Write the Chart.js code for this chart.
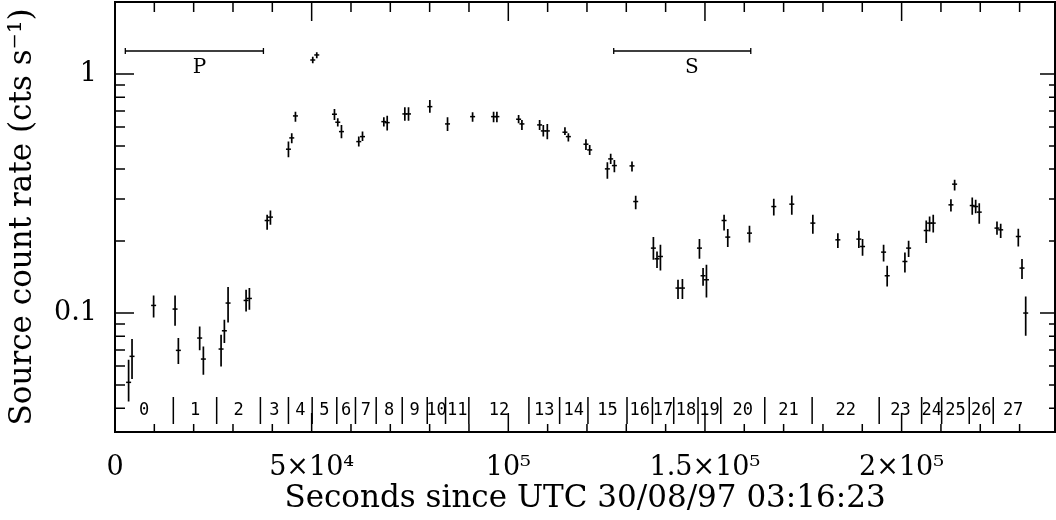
<!DOCTYPE html>
<html lang="en">
<head>
  <meta charset="UTF-8">
  <title>Light curve</title>
  <script src="https://cdn.jsdelivr.net/npm/chart.js"></script>
  <style>
    body { margin: 0; background: #fff; }
    #wrap { position: relative; width: 1056px; height: 520px; }
  </style>
</head>
<body>
  <div id="wrap"><canvas id="lightCurve"></canvas></div>
  <script>
    // time bins (s since 30/08/97 03:16:23) and source rate with error range
    const time = [3460, 4330, 9820, 15270, 16110, 21530, 22470, 26970, 27810, 28750,
      33330, 34170, 38680, 39520, 44100, 44940, 45880, 50280, 51300, 55800,
      56640, 57580, 61980, 62930, 68350, 69210, 73690, 74630, 80050, 84550,
      90920, 96260, 97100, 102620, 103460, 107960, 108900, 109920, 114400, 115270,
      119740, 120690, 125190, 126030, 126970, 131450, 132390, 136890, 137810, 138680,
      143150, 144270, 148600, 149520, 150380, 154860, 155800, 161320, 167500, 172080,
      177430, 183790, 189130, 190070, 195420, 196330, 200840, 201780, 206260, 207120,
      208040, 212540, 213480, 217960, 218830, 219740, 224250, 225190, 229670, 230610,
      231550];
    const rate = [0.0513, 0.0659, 0.1076, 0.1039, 0.0698, 0.0786, 0.0642, 0.0707, 0.0843, 0.1101,
      0.1129, 0.1151, 0.2438, 0.2519, 0.4845, 0.5402, 0.6676, 1.144, 1.201, 0.6786,
      0.6283, 0.5740, 0.5213, 0.5470, 0.6319, 0.6259, 0.6805, 0.6805, 0.7300, 0.6181,
      0.6631, 0.6631, 0.6631, 0.6467, 0.6181, 0.6122, 0.5778, 0.5778, 0.5707, 0.5470,
      0.5084, 0.4813, 0.4009, 0.4413, 0.4138, 0.4126, 0.2927, 0.1869, 0.1686, 0.1724,
      0.1272, 0.1272, 0.1869, 0.1432, 0.1378, 0.2438, 0.2078, 0.2159, 0.2789, 0.2854,
      0.2378, 0.2024, 0.2038, 0.1898, 0.1798, 0.1432, 0.1643, 0.1869, 0.2214, 0.2378,
      0.2378, 0.2835, 0.3460, 0.2816, 0.2789, 0.2643, 0.2266, 0.2229, 0.2090, 0.1542,
      0.1000];
    const rateHigh = [0.0638, 0.0779, 0.1184, 0.1184, 0.0786, 0.0879, 0.0725, 0.0812, 0.0938, 0.1284,
      0.1251, 0.1272, 0.2575, 0.2684, 0.5213, 0.5652, 0.6958, 1.181, 1.232, 0.7141,
      0.6529, 0.6122, 0.5470, 0.5740, 0.6592, 0.6695, 0.7258, 0.7258, 0.7787, 0.6592,
      0.6918, 0.6958, 0.6958, 0.6740, 0.6424, 0.6424, 0.6122, 0.6181, 0.5988, 0.5652,
      0.5335, 0.5050, 0.4276, 0.4632, 0.4371, 0.4300, 0.3091, 0.2078, 0.1809, 0.1929,
      0.1378, 0.1387, 0.2038, 0.1542, 0.1592, 0.2575, 0.2244, 0.2316, 0.3004, 0.3101,
      0.2575, 0.2159, 0.2208, 0.2038, 0.1929, 0.1576, 0.1792, 0.2005, 0.2438, 0.2533,
      0.2575, 0.2995, 0.3606, 0.3041, 0.2975, 0.2882, 0.2414, 0.2361, 0.2251, 0.1681,
      0.1173];
    const rateLow = [0.0427, 0.0530, 0.0959, 0.0885, 0.0612, 0.0698, 0.0552, 0.0598, 0.0749, 0.0914,
      0.1015, 0.1032, 0.2229, 0.2339, 0.4487, 0.5133, 0.6319, 1.108, 1.163, 0.6424,
      0.6023, 0.5386, 0.4968, 0.5249, 0.6023, 0.5795, 0.6380, 0.6380, 0.6891, 0.5778,
      0.6319, 0.6283, 0.6283, 0.6223, 0.5834, 0.5834, 0.5470, 0.5335, 0.5561, 0.5213,
      0.4813, 0.4587, 0.3641, 0.4206, 0.3884, 0.3906, 0.2720, 0.1670, 0.1542, 0.1507,
      0.1144, 0.1144, 0.1686, 0.1300, 0.1162, 0.2214, 0.1887, 0.1973, 0.2558, 0.2575,
      0.2145, 0.1869, 0.1869, 0.1736, 0.1643, 0.1292, 0.1478, 0.1714, 0.1961, 0.2193,
      0.2172, 0.2658, 0.3253, 0.2575, 0.2617, 0.2361, 0.2124, 0.2058, 0.1898, 0.1387,
      0.0804];

    // observation segments 0..27 (boundaries in s)
    const segBounds = [0, 14830, 25850, 36970, 44100, 50130, 56390, 61140, 66410, 73030,
      79390, 84040, 89970, 105240, 113050, 120250, 130180, 136640, 142060, 148240,
      154020, 165210, 177250, 194300, 205090, 210180, 217200, 223300, 233400];
    const segLabels = ['0', '1', '2', '3', '4', '5', '6', '7', '8', '9', '10', '11', '12', '13',
      '14', '15', '16', '17', '18', '19', '20', '21', '22', '23', '24', '25', '26', '27'];

    // phase intervals marked at the top
    const phaseNames = ['P', 'S'];
    const phaseStart = [2620, 126800];
    const phaseEnd = [37740, 161650];
    const phaseLabelAt = [21450, 146640];

    // axis ticks
    const xTickValues = [0, 50000, 100000, 150000, 200000];
    const xTickLabels = ['0', '5×10⁴', '10⁵', '1.5×10⁵', '2×10⁵'];
    const yTickValues = [0.1, 1];
    const yTickLabels = ['0.1', '1'];
    const yMinorTicks = [0.04, 0.05, 0.06, 0.07, 0.08, 0.09, 0.2, 0.3, 0.4, 0.5, 0.6, 0.7, 0.8, 0.9];

    // error bars, segment marks, phase bars, frame and inward ticks
    const overlay = {
      id: 'overlay',
      afterDatasetsDraw(chart) {
        const { ctx, chartArea: a, scales: { x, y } } = chart;
        ctx.save();
        ctx.strokeStyle = '#000';
        ctx.fillStyle = '#000';

        ctx.lineWidth = 1.7;
        ctx.beginPath();
        time.forEach((t, i) => {
          const px = x.getPixelForValue(t);
          ctx.moveTo(px, y.getPixelForValue(rateHigh[i]));
          ctx.lineTo(px, y.getPixelForValue(rateLow[i]));
        });
        ctx.stroke();

        // segment separators and numbers
        ctx.lineWidth = 1.5;
        ctx.beginPath();
        for (let i = 1; i < segBounds.length - 1; i++) {
          const px = x.getPixelForValue(segBounds[i]);
          ctx.moveTo(px, a.bottom - 35);
          ctx.lineTo(px, a.bottom - 8);
        }
        ctx.stroke();
        ctx.font = '17px "DejaVu Sans Mono"';
        ctx.textAlign = 'center';
        ctx.textBaseline = 'middle';
        segLabels.forEach((s, i) => {
          const mid = (segBounds[i] + segBounds[i + 1]) / 2;
          ctx.fillText(s, x.getPixelForValue(mid), a.bottom - 21);
        });

        // P / S bars
        ctx.lineWidth = 1.3;
        ctx.font = '20px "DejaVu Serif"';
        phaseNames.forEach((n, i) => {
          const x0 = x.getPixelForValue(phaseStart[i]);
          const x1 = x.getPixelForValue(phaseEnd[i]);
          const yy = a.top + 49;
          ctx.beginPath();
          ctx.moveTo(x0, yy); ctx.lineTo(x1, yy);
          ctx.moveTo(x0, yy - 3); ctx.lineTo(x0, yy + 3);
          ctx.moveTo(x1, yy - 3); ctx.lineTo(x1, yy + 3);
          ctx.stroke();
          ctx.fillText(n, x.getPixelForValue(phaseLabelAt[i]), a.top + 66);
        });

        // frame
        ctx.lineWidth = 2;
        ctx.strokeRect(a.left, a.top, a.right - a.left, a.bottom - a.top);

        // ticks pointing inward
        ctx.lineWidth = 1.5;
        ctx.beginPath();
        for (let v = 0; v <= x.max; v += 10000) {
          const px = x.getPixelForValue(v);
          const major = v % 50000 === 0;
          ctx.moveTo(px, a.bottom); ctx.lineTo(px, a.bottom - (major ? 19 : 8));
          ctx.moveTo(px, a.top); ctx.lineTo(px, a.top + (major ? 19 : 10));
        }
        yTickValues.forEach(v => {
          const py = y.getPixelForValue(v);
          ctx.moveTo(a.left, py); ctx.lineTo(a.left + 19, py);
          ctx.moveTo(a.right, py); ctx.lineTo(a.right - 15, py);
        });
        yMinorTicks.forEach(v => {
          const py = y.getPixelForValue(v);
          ctx.moveTo(a.left, py); ctx.lineTo(a.left + 10, py);
          ctx.moveTo(a.right, py); ctx.lineTo(a.right - 6, py);
        });
        ctx.stroke();
        ctx.restore();
      }
    };

    Chart.defaults.font.family = '"DejaVu Serif"';
    Chart.defaults.color = '#000';

    const ctx = document.getElementById('lightCurve').getContext('2d');
    new Chart(ctx, {
      type: 'scatter',
      data: {
        datasets: [{
          data: time.map((t, i) => ({ x: t, y: rate[i] })),
          pointStyle: 'line',
          pointRadius: 2.5,
          pointHoverRadius: 2.5,
          borderWidth: 1.5,
          borderColor: '#000',
          backgroundColor: '#000'
        }]
      },
      options: {
        responsive: true,
        maintainAspectRatio: false,
        animation: false,
        events: [],
        layout: { autoPadding: false, padding: { top: 2, right: 1, left: 0, bottom: 0 } },
        plugins: { legend: { display: false }, tooltip: { enabled: false } },
        scales: {
          x: {
            type: 'linear',
            min: 0,
            max: 239000,
            afterFit: s => { s.height = 88; s.paddingLeft = 0; s.paddingRight = 0; },
            afterBuildTicks: s => { s.ticks = xTickValues.map(v => ({ value: v })); },
            grid: { display: false, drawTicks: false },
            border: { display: false },
            ticks: {
              autoSkip: false,
              maxRotation: 0,
              padding: 20,
              font: { size: 27 },
              callback: (v, i) => xTickLabels[i]
            },
            title: {
              display: true,
              text: 'Seconds since UTC 30/08/97 03:16:23',
              font: { size: 31 },
              padding: { top: 0, bottom: 2 }
            }
          },
          y: {
            type: 'logarithmic',
            min: 0.0318,
            max: 2.0,
            afterFit: s => { s.width = 115; s.paddingTop = 0; s.paddingBottom = 0; },
            afterBuildTicks: s => { s.ticks = yTickValues.map(v => ({ value: v })); },
            grid: { display: false, drawTicks: false },
            border: { display: false },
            ticks: {
              padding: 18,
              font: { size: 27 },
              callback: (v, i) => yTickLabels[i]
            },
            title: {
              display: true,
              text: 'Source count rate (cts s⁻¹)',
              font: { size: 31 },
              padding: { top: 4, bottom: 0 }
            }
          }
        }
      },
      plugins: [overlay]
    });
  </script>
</body>
</html>
